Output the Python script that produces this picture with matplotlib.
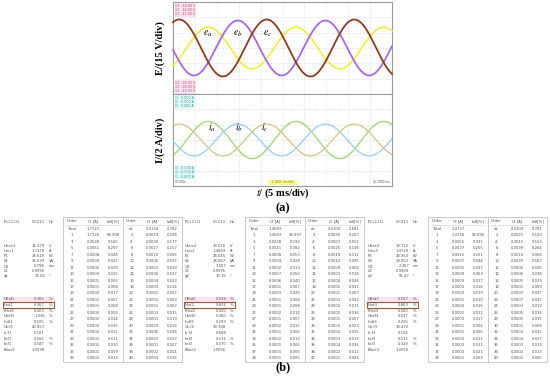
import numpy as np
import matplotlib
matplotlib.use('Agg')
import matplotlib.pyplot as plt
from matplotlib.patches import Rectangle

plt.rcParams['mathtext.fontset'] = 'stix'

# ---- scope data ----
f_line = 50.011                       # Hz
U_rms = [14.379, 19.016, 19.722]      # V, phases a b c
I_rms = [1.7129, 1.4683, 1.4729]      # A
t_peak = [8.1, 14.8, 1.4]             # ms, time of first peak per phase
v_colors = ['#eeee50', '#a868e0', '#8e3a22']
i_colors = ['#a8d47c', '#9fd2f0', '#d6c98e']
v_names = ['$e_a$', '$e_b$', '$e_c$']
i_names = ['$i_a$', '$i_b$', '$i_c$']

# ---- power analyser screens ----
pll_val = '50.011'
top_lab = ['Urms', 'Irms', 'P', 'S', 'Q', 'λ', 'φ']
top_unit = ['V', 'A', 'W', 'VA', 'var', '', '°']
top_vals = [['14.379', '1.7129', '24.610', '24.633', '0.798', '0.9995', '32.04'],
            ['19.016', '1.4683', '28.045', '28.067', '3.007', '0.9995', '33.35'],
            ['19.722', '1.4729', '28.963', '29.052', '2.367', '0.9969', '55.47']]
bot_lab = ['Uthd', 'Ithd', 'Pthd', 'Uhdf', 'Ihdf', 'Uk-f', 'Ik-f', 'hvf', 'hcf', 'Kfact']
bot_unit = ['%', '%', '%', '%', '%', '', '', '%', '%', '']
bot_vals = [['0.365', '0.367', '0.003', '1.336', '0.105', '40.857', '0.101', '0.266', '0.587', '1.0038'],
            ['0.528', '0.832', '0.000', '0.360', '0.293', '33.788', '0.688', '0.131', '0.370', '1.0056'],
            ['0.527', '0.863', '0.000', '0.037', '0.206', '33.472', '0.154', '0.122', '0.329', '1.0056']]

i_total = ['1.7121', '1.4683', '1.4727']
odd_orders = list(range(1, 40, 2))
even_orders = ['dc'] + list(range(2, 41, 2))
odd_amp = [
    ['1.7126', '0.0028', '0.0051', '0.0008', '0.0004', '0.0005', '0.0004', '0.0001', '0.0001', '0.0002',
     '0.0001', '0.0001', '0.0000', '0.0002', '0.0003', '0.0002', '0.0002', '0.0002', '0.0001', '0.0002'],
    ['1.4683', '0.0028', '0.0041', '0.0008', '0.0004', '0.0002', '0.0007', '0.0006', '0.0001', '0.0003',
     '0.0001', '0.0001', '0.0002', '0.0001', '0.0002', '0.0001', '0.0002', '0.0001', '0.0001', '0.0001'],
    ['1.4726', '0.0055', '0.0037', '0.0015', '0.0007', '0.0005', '0.0009', '0.0003', '0.0003', '0.0003',
     '0.0001', '0.0002', '0.0002', '0.0003', '0.0001', '0.0001', '0.0002', '0.0002', '0.0003', '0.0001']]
odd_hdf = [
    ['99.998', '0.165', '0.297', '0.048', '0.022', '0.029', '0.025', '0.005', '0.008', '0.017',
     '0.007', '0.008', '0.002', '0.014', '0.015', '0.011', '0.011', '0.010', '0.009', '0.013'],
    ['99.997', '0.192', '0.282', '0.053', '0.028', '0.013', '0.050', '0.040', '0.007', '0.020',
     '0.008', '0.008', '0.014', '0.007', '0.017', '0.005', '0.013', '0.005', '0.005', '0.005'],
    ['99.996', '0.331', '0.256', '0.101', '0.044', '0.037', '0.063', '0.017', '0.016', '0.019',
     '0.010', '0.016', '0.012', '0.017', '0.004', '0.005', '0.011', '0.012', '0.021', '0.009']]
even_amp = [
    ['0.0134', '0.0019', '0.0030', '0.0027', '0.0010', '0.0006', '0.0003', '0.0006', '0.0004', '0.0003', '0.0001',
     '0.0002', '0.0001', '0.0003', '0.0003', '0.0003', '0.0006', '0.0003', '0.0001', '0.0002', '0.0003'],
    ['0.0100', '0.0030', '0.0007', '0.0025', '0.0019', '0.0014', '0.0009', '0.0003', '0.0004', '0.0005', '0.0001',
     '0.0003', '0.0002', '0.0005', '0.0001', '0.0003', '0.0004', '0.0003', '0.0004', '0.0002', '0.0001'],
    ['0.0103', '0.0021', '0.0015', '0.0039', '0.0010', '0.0025', '0.0005', '0.0006', '0.0005', '0.0001', '0.0007',
     '0.0007', '0.0003', '0.0005', '0.0005', '0.0001', '0.0003', '0.0004', '0.0003', '0.0002', '0.0001']]
even_hdf = [
    ['0.782', '0.108', '0.177', '0.157', '0.056', '0.037', '0.019', '0.037', '0.023', '0.014', '0.007',
     '0.009', '0.007', '0.015', '0.019', '0.018', '0.038', '0.017', '0.007', '0.014', '0.015'],
    ['0.681', '0.207', '0.051', '0.148', '0.132', '0.095', '0.064', '0.018', '0.026', '0.031', '0.007',
     '0.022', '0.011', '0.036', '0.007', '0.023', '0.025', '0.019', '0.026', '0.012', '0.004'],
    ['0.701', '0.143', '0.103', '0.264', '0.066', '0.167', '0.036', '0.038', '0.033', '0.009', '0.047',
     '0.047', '0.019', '0.034', '0.035', '0.008', '0.015', '0.027', '0.019', '0.013', '0.005']]

W, H = 550, 380
fig = plt.figure(figsize=(5.5, 3.8), dpi=100)
fig.patch.set_facecolor('white')

# background axes in pixel coordinates for the text screens
bg = fig.add_axes([0, 0, 1, 1], zorder=0)
bg.set_xlim(0, W)
bg.set_ylim(H, 0)
bg.axis('off')

def pax(x0, y0, x1, y1):
    return fig.add_axes([x0 / W, 1 - y1 / H, (x1 - x0) / W, (y1 - y0) / H], zorder=2)

ax_e = pax(173, 2, 392, 94)
ax_i = pax(173, 94, 392, 186)
t = np.linspace(0, 50, 1500)

for k in range(3):
    w = 2 * np.pi * f_line * (t - t_peak[k]) / 1000
    ax_e.plot(t, U_rms[k] * np.sqrt(2) * np.cos(w), color=v_colors[k], lw=1.3, zorder=3, clip_on=False)
    ax_i.plot(t, I_rms[k] * np.sqrt(2) * np.cos(w), color=i_colors[k], lw=1.0, zorder=3, clip_on=False)

for ax, ylim, step in [(ax_e, 45, 15), (ax_i, 6, 2)]:
    ax.set_xlim(0, 50)
    ax.set_ylim(-ylim, ylim)
    for gx in range(5, 50, 5):
        ax.axvline(gx, color='#cfcfcf', lw=0.5, ls=':', zorder=1, clip_on=False)
    for gy in range(-ylim + step, ylim, step):
        ax.axhline(gy, color='#cfcfcf', lw=0.5, ls=':', zorder=1, clip_on=False)
    ax.set_xticks([])
    ax.set_yticks([])
    for s in ax.spines.values():
        s.set_color('#9a9a9a')
        s.set_linewidth(0.8)

for k, x in enumerate([8.0, 14.8, 21.5]):
    ax_e.text(x, 14, v_names[k], fontsize=7, ha='center', va='center', zorder=5)
for k, x in enumerate([8.9, 15.1, 21.0]):
    ax_i.text(x, 1.6, i_names[k], fontsize=7, ha='center', va='center', zorder=5)

# small scope readouts
pink = dict(fc='#fbe0ef', ec='none', pad=0.4)
cyan = dict(fc='#dff6f6', ec='none', pad=0.4)
for k in range(3):
    ax_e.text(0.5, 43.5 - 4.2 * k, 'U%d   45.00 V' % (3 - k), fontsize=2.3, color='#c05070',
              va='top', bbox=pink)
    ax_e.text(0.5, -32 - 4.2 * k, 'U%d  -45.00 V' % (3 - k), fontsize=2.3, color='#c05070',
              va='top', bbox=pink)
    ax_i.text(0.5, 5.8 - 0.56 * k, 'I%d   6.000 A' % (3 - k), fontsize=2.3, color='#40a0a0',
              va='top', bbox=cyan)
    ax_i.text(0.5, -3.4 - 0.56 * k, 'I%d  -6.000 A' % (3 - k), fontsize=2.3, color='#40a0a0',
              va='top', bbox=cyan)
ax_i.text(0.4, -5.8, '0.000s', fontsize=2.5, color='#555555', va='bottom')
ax_i.text(49.6, -5.8, '50.000ms', fontsize=2.5, color='#555555', va='bottom', ha='right')
ax_i.text(25, -5.8, '  1.000 ms/div  ', fontsize=2.5, color='#888800', va='bottom', ha='center',
          bbox=dict(fc='#fafa90', ec='none', pad=0.3))

serif = 'Liberation Serif'
fig.text(160 / W, 1 - 48 / H, 'E/(15 V/div)', rotation=90, ha='center', va='center',
         family=serif, weight='bold', fontsize=7.5)
fig.text(160 / W, 1 - 140 / H, 'I/(2 A/div)', rotation=90, ha='center', va='center',
         family=serif, weight='bold', fontsize=7.5)
fig.text(283 / W, 1 - 193 / H, r'$t$/ (5 ms/div)', ha='center', va='center',
         family=serif, weight='bold', fontsize=7.5)
fig.text(283 / W, 1 - 208 / H, '(a)', ha='center', va='center', family=serif, weight='bold', fontsize=9)
fig.text(283 / W, 1 - 367 / H, '(b)', ha='center', va='center', family=serif, weight='bold', fontsize=9)

# ---- part (b): analyser screens ----
fs = 2.7
tc = '#505050'
set_x = [4, 185, 368]
tab_x = [63, 245, 428]
tab_w = 119
for p in range(3):
    x0 = set_x[p]
    bg.text(x0, 222, 'IPLL1:U1', fontsize=fs, color=tc, va='center')
    bg.text(x0 + 41, 222, pll_val, fontsize=fs, color=tc, va='center', ha='right')
    bg.text(x0 + 45, 222, 'Hz', fontsize=fs, color=tc, va='center')
    for r in range(len(top_lab)):
        y = 246 + 5.0 * r
        bg.text(x0, y, top_lab[r] + str(p + 1), fontsize=fs, color=tc, va='center')
        bg.text(x0 + 41, y, top_vals[p][r], fontsize=fs, color=tc, va='center', ha='right')
        bg.text(x0 + 45, y, top_unit[r], fontsize=fs, color=tc, va='center')
    bg.add_patch(Rectangle((x0 - 1, 296.5), 52, 5, color='#fbe3ee', lw=0))
    for r in range(len(bot_lab)):
        y = 299.3 + 5.6 * r
        bg.text(x0, y, bot_lab[r] + str(p + 1), fontsize=fs, color=tc, va='center')
        bg.text(x0 + 41, y, bot_vals[p][r], fontsize=fs, color=tc, va='center', ha='right')
        bg.text(x0 + 45, y, bot_unit[r], fontsize=fs, color=tc, va='center')
    bg.add_patch(Rectangle((x0 - 1, 302.2), 51, 5.6, fill=False, ec='#9a5a30', lw=0.8))

    # harmonic table
    tx = tab_x[p]
    bg.add_patch(Rectangle((tx, 217), tab_w, 145, fill=False, ec='#c0c0c0', lw=0.6))
    bg.plot([tx + tab_w / 2, tx + tab_w / 2], [217, 362], color='#c0c0c0', lw=0.6)
    for h in range(2):
        hx = tx + h * tab_w / 2
        bg.text(hx + 9, 221, 'Order', fontsize=fs, color=tc, va='center', ha='center')
        bg.text(hx + 30, 221, 'I%d [A]' % (p + 1), fontsize=fs, color=tc, va='center', ha='center')
        bg.text(hx + 50, 221, 'hdf[%]', fontsize=fs, color=tc, va='center', ha='center')
        bg.plot([hx + 3, hx + tab_w / 2 - 3], [224.5, 224.5], color='#b0b0b0', lw=0.4, ls=(0, (2, 1)))
    bg.text(tx + 9, 229, 'Total', fontsize=fs, color=tc, va='center', ha='center')
    bg.text(tx + 30, 229, i_total[p], fontsize=fs, color=tc, va='center', ha='center')
    hx = tx + tab_w / 2
    bg.text(hx + 9, 229, even_orders[0], fontsize=fs, color=tc, va='center', ha='center')
    bg.text(hx + 30, 229, even_amp[p][0], fontsize=fs, color=tc, va='center', ha='center')
    bg.text(hx + 50, 229, even_hdf[p][0], fontsize=fs, color=tc, va='center', ha='center')
    for r in range(20):
        y = 229 + 6.45 * (r + 1)
        bg.text(tx + 9, y, str(odd_orders[r]), fontsize=fs, color=tc, va='center', ha='center')
        bg.text(tx + 30, y, odd_amp[p][r], fontsize=fs, color=tc, va='center', ha='center')
        bg.text(tx + 50, y, odd_hdf[p][r], fontsize=fs, color=tc, va='center', ha='center')
        bg.text(hx + 9, y, str(even_orders[r + 1]), fontsize=fs, color=tc, va='center', ha='center')
        bg.text(hx + 30, y, even_amp[p][r + 1], fontsize=fs, color=tc, va='center', ha='center')
        bg.text(hx + 50, y, even_hdf[p][r + 1], fontsize=fs, color=tc, va='center', ha='center')

fig.savefig('out.png', dpi=100)
